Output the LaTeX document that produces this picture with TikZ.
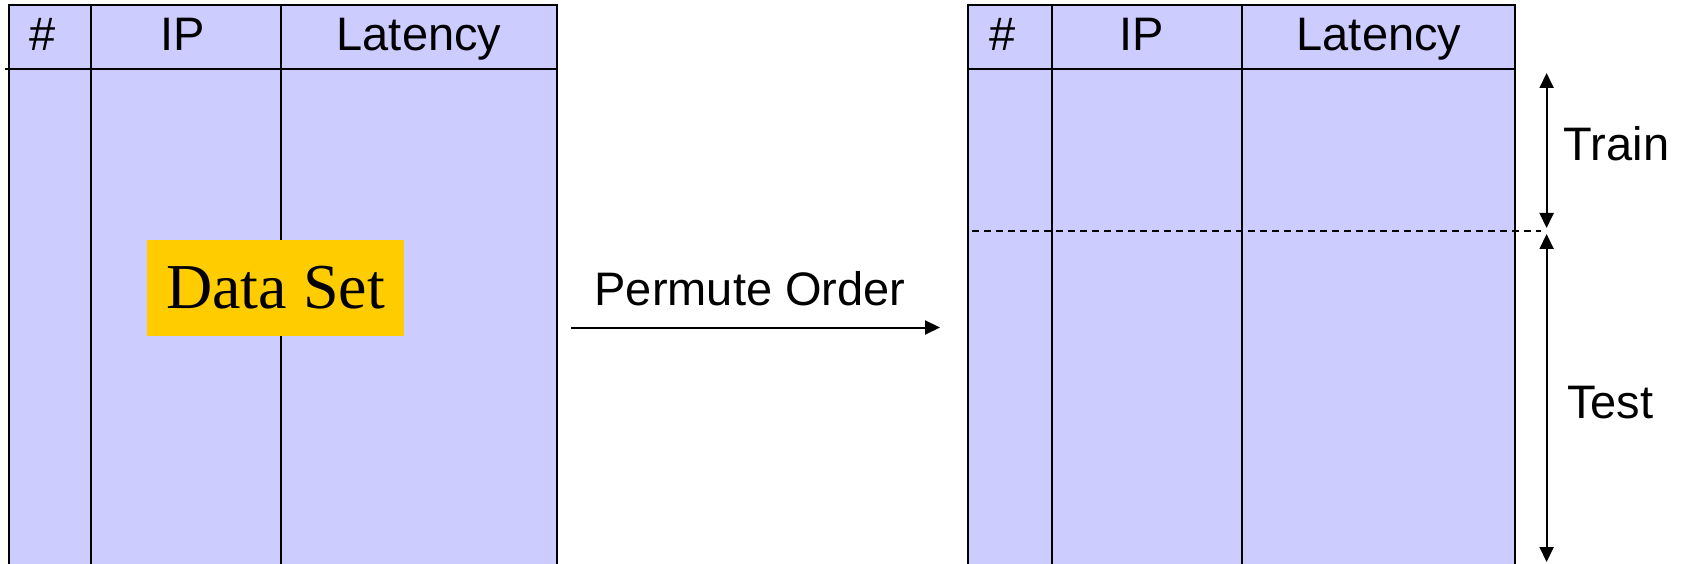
\documentclass[tikz,border=0pt]{standalone}
\usepackage{fontspec}
\setmainfont{Liberation Sans}
\newfontfamily\serifface{Liberation Serif}
\usetikzlibrary{arrows.meta}
\definecolor{tablefill}{HTML}{CCCCFF}
\definecolor{labelgold}{HTML}{FFCC00}

\tikzset{
  rule/.style={line width=2pt, draw=black},
  header/.style={anchor=base, inner sep=0pt, font=\fontsize{47}{56}\selectfont},
  sidelabel/.style={anchor=base west, inner sep=0pt, font=\fontsize{47}{56}\selectfont},
  split/.style={line width=1.4pt, dash pattern=on 7pt off 5pt},
  pointer/.style={line width=2pt, -{Triangle[length=15pt,width=14pt]}},
  span/.style={line width=2pt, {Triangle[length=15pt,width=14pt]}-{Triangle[length=15pt,width=14pt]}},
  tag/.style={fill=labelgold, minimum width=257pt, minimum height=96pt, inner sep=0pt,
              font=\serifface\fontsize{64}{76}\selectfont}
}

\begin{document}
\begin{tikzpicture}[x=1pt, y=-1pt]
\useasboundingbox (0,0) rectangle (1684,564);
\clip (0,0) rectangle (1684,564);

% ---- original data set table ----
\fill[tablefill] (8.6,5.4) rectangle (557,620);
\draw[rule] (8.6,620) -- (8.6,5.4) -- (557,5.4) -- (557,620);
\draw[rule] (91.3,5.4) -- (91.3,620);
\draw[rule] (281.4,5.4) -- (281.4,620);
\draw[rule] (5,68.7) -- (557,68.7);
\node[header] (lhash) at (43,51) {\#};
\node[header] (lip) at (183,51) {IP};
\node[header] (llat) at (419,51) {Latency};
\node[tag] (dataset) at (275.5,288) {Data Set};

% ---- permuted table ----
\fill[tablefill] (967.7,5.4) rectangle (1515.4,620);
\draw[rule] (967.7,620) -- (967.7,5.4) -- (1515.4,5.4) -- (1515.4,620);
\draw[rule] (1051.5,5.4) -- (1051.5,620);
\draw[rule] (1241.5,5.4) -- (1241.5,620);
\draw[rule] (967.7,68.7) -- (1515.4,68.7);
\node[header] (rhash) at (1003,51) {\#};
\node[header] (rip) at (1142,51) {IP};
\node[header] (rlat) at (1379,51) {Latency};

% train / test boundary
\coordinate (cutleft) at (972,231);
\coordinate (cutright) at (1541,231);
\draw[split] (cutleft) -- (cutright);

% ---- permutation step ----
\coordinate (permfrom) at (571,327.5);
\coordinate (permto) at (940,327.5);
\draw[pointer] (permfrom) -- (permto);
\node[header] (permlabel) at (750,305) {Permute Order};

% ---- train / test extents ----
\coordinate (traintop) at (1546.6,73);
\coordinate (trainbot) at (1546.6,228);
\coordinate (testtop) at (1546.6,234);
\coordinate (testbot) at (1546.6,562);
\draw[span] (traintop) -- (trainbot);
\draw[span] (testtop) -- (testbot);
\node[sidelabel] (trainlabel) at (1563.7,161) {Train};
\node[sidelabel] (testlabel) at (1567,418) {Test};
\end{tikzpicture}
\end{document}
